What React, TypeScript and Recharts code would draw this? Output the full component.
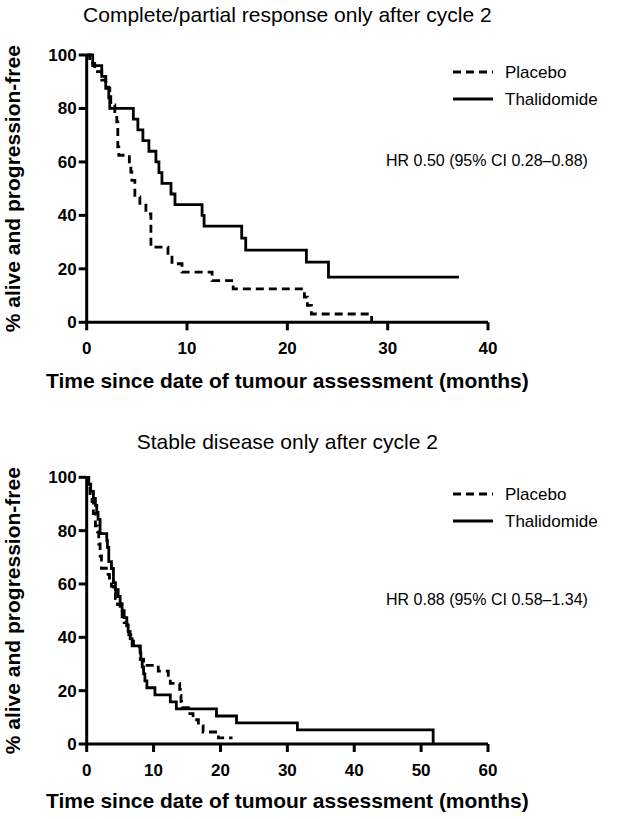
import React from 'react';
import { LineChart, Line, XAxis, YAxis, Legend } from 'recharts';

const FONT = '"Liberation Sans", Arial, Helvetica, sans-serif';

// ---- Top panel: Complete/partial response only after cycle 2 ----
const topTitle = 'Complete/partial response only after cycle 2';
const topHR = 'HR 0.50 (95% CI 0.28\u20130.88)';
const topXTicks = [0, 10, 20, 30, 40];
const topPlaceboTime = [0, 0.3, 0.8, 1.5, 1.9, 2.3, 2.4, 2.8, 3.0, 3.1, 3.2, 4.25, 4.4, 4.5, 4.8, 5.3, 5.9, 6.4, 8.1, 8.5, 9.5, 12.5, 14.6, 21.7, 22.0, 22.4, 28.4];
const topPlaceboSurv = [100, 96.9, 93.8, 90.6, 87.5, 84.4, 81.3, 78.1, 75, 65.6, 62.5, 59.4, 56.3, 53.1, 46.9, 43.8, 40.6, 28.1, 25, 21.9, 18.8, 15.6, 12.5, 9.4, 6.3, 3.1, 0];
const topThalTime = [0, 0.6, 1.5, 1.9, 2.2, 2.3, 4.65, 5.1, 5.6, 6.2, 6.9, 7.2, 7.5, 8.4, 8.8, 11.5, 11.7, 15.45, 15.85, 21.9, 24.1, 37.1];
const topThalSurv = [100, 96, 92, 88, 84, 80, 76, 72, 68, 64, 60, 56, 52, 48, 44, 40, 36, 31.5, 27, 22.5, 16.9, 16.9];

// ---- Bottom panel: Stable disease only after cycle 2 ----
const botTitle = 'Stable disease only after cycle 2';
const botHR = 'HR 0.88 (95% CI 0.58\u20131.34)';
const botXTicks = [0, 10, 20, 30, 40, 50, 60];
const botPlaceboTime = [0, 0.3, 0.5, 0.8, 1.0, 1.3, 1.6, 1.8, 2.0, 2.2, 3.2, 3.4, 3.7, 4.0, 4.3, 4.6, 5.0, 5.3, 5.6, 6.0, 6.3, 6.6, 7.0, 8.0, 8.5, 10.7, 12.2, 12.5, 13.9, 14.0, 14.1, 14.2, 15.2, 15.9, 16.7, 17.4, 19.7, 21.8];
const botPlaceboSurv = [100, 97.7, 93.2, 90.9, 86.4, 81.8, 79.5, 75, 70.5, 65.9, 63.6, 61.4, 59.1, 56.8, 54.5, 52.3, 50, 47.7, 45.5, 43.2, 40.9, 38.6, 36.4, 31.8, 29.5, 27.3, 25, 22.7, 20.5, 18.2, 15.9, 13.6, 11.4, 9.1, 6.8, 4.5, 2.3, 2.3];
const botThalTime = [0, 0.3, 0.6, 1.0, 1.3, 1.5, 1.7, 2.0, 3.0, 3.1, 3.3, 3.7, 4.0, 4.3, 4.7, 5.0, 5.3, 5.6, 6.0, 6.2, 6.5, 6.8, 8.0, 8.1, 8.3, 8.5, 8.7, 9.0, 10.2, 12.5, 13.4, 19.4, 22.4, 31.5, 51.8];
const botThalSurv = [100, 97.4, 94.7, 92.1, 89.5, 86.8, 84.2, 78.9, 76.3, 73.7, 68.4, 65.8, 60.5, 57.9, 55.3, 52.6, 50, 47.4, 44.7, 42.1, 39.5, 36.8, 34.2, 31.6, 28.9, 26.3, 23.7, 21.1, 18.4, 15.8, 13.2, 10.5, 7.9, 5.3, 0];

const yTicks = [0, 20, 40, 60, 80, 100];
const seriesNames = ['Placebo', 'Thalidomide'];
const xAxisTitle = 'Time since date of tumour assessment (months)';
const yAxisTitle = '% alive and progression-free';

const zip = (t: number[], v: number[]) => t.map((x, i) => ({ t: x, v: v[i] }));

const DASH = '8 5';

const renderLegend = () => (
  <div style={{ fontFamily: FONT, fontSize: 17, color: '#000' }}>
    {seriesNames.map((name, i) => (
      <div key={name} style={{ display: 'flex', alignItems: 'center', height: 27 }}>
        <svg width={40} height={6} style={{ display: 'block' }}>
          <line x1={0} y1={3} x2={40} y2={3} stroke="#000" strokeWidth={3} strokeDasharray={i === 0 ? DASH : undefined} />
        </svg>
        <span style={{ marginLeft: 12, lineHeight: '27px' }}>{name}</span>
      </div>
    ))}
  </div>
);

const tickStyle = { fill: '#000', fontSize: 17, fontWeight: 'bold' as const, fontFamily: FONT };

interface PanelProps {
  placebo: { t: number; v: number }[];
  thal: { t: number; v: number }[];
  xMax: number;
  xTicks: number[];
  height: number;
  marginTop: number;
  marginBottom: number;
  legendTop: number;
}

function Panel({ placebo, thal, xMax, xTicks, height, marginTop, marginBottom, legendTop }: PanelProps) {
  return (
    <LineChart width={625} height={height} margin={{ top: marginTop, right: 137, bottom: marginBottom, left: 26.7 }}>
      <XAxis
        type="number"
        dataKey="t"
        domain={[0, xMax]}
        ticks={xTicks}
        allowDuplicatedCategory={false}
        height={30}
        tick={tickStyle}
        tickSize={8}
        tickMargin={12}
        axisLine={{ stroke: '#000', strokeWidth: 3 }}
        tickLine={{ stroke: '#000', strokeWidth: 3 }}
      />
      <YAxis
        type="number"
        dataKey="v"
        domain={[0, 100]}
        ticks={yTicks}
        width={60}
        tick={tickStyle}
        tickSize={8}
        tickMargin={2}
        axisLine={{ stroke: '#000', strokeWidth: 3 }}
        tickLine={{ stroke: '#000', strokeWidth: 3 }}
      />
      <Legend
        layout="horizontal"
        verticalAlign="middle"
        align="center"
        content={renderLegend}
        wrapperStyle={{ position: 'absolute', left: 453, top: legendTop, width: 170 }}
      />
      <Line
        data={placebo}
        dataKey="v"
        name="Placebo"
        type="stepAfter"
        stroke="#000"
        strokeWidth={2.8}
        strokeDasharray={DASH}
        dot={false}
        activeDot={false}
        isAnimationActive={false}
      />
      <Line
        data={thal}
        dataKey="v"
        name="Thalidomide"
        type="stepAfter"
        stroke="#000"
        strokeWidth={2.8}
        dot={false}
        activeDot={false}
        isAnimationActive={false}
      />
    </LineChart>
  );
}

export default function App() {
  const plotCx = (86.7 + 488) / 2;
  return (
    <div style={{ position: 'absolute', left: 0, top: 0, width: 625, height: 819, background: '#fff' }}>
      <div style={{ position: 'absolute', left: 0, top: 0 }}>
        <Panel
          placebo={zip(topPlaceboTime, topPlaceboSurv)}
          thal={zip(topThalTime, topThalSurv)}
          xMax={40}
          xTicks={topXTicks}
          height={400}
          marginTop={55}
          marginBottom={47.7}
          legendTop={58.5}
        />
      </div>
      <div style={{ position: 'absolute', left: 0, top: 400 }}>
        <Panel
          placebo={zip(botPlaceboTime, botPlaceboSurv)}
          thal={zip(botThalTime, botThalSurv)}
          xMax={60}
          xTicks={botXTicks}
          height={419}
          marginTop={77.3}
          marginBottom={45}
          legendTop={80.5}
        />
      </div>
      <svg width={625} height={819} style={{ position: 'absolute', left: 0, top: 0, pointerEvents: 'none' }} fontFamily={FONT}>
        <text x={plotCx} y={22} textAnchor="middle" fontSize={21} fill="#000">{topTitle}</text>
        <text x={plotCx} y={449} textAnchor="middle" fontSize={21} fill="#000">{botTitle}</text>
        <text x={386} y={166} fontSize={16} fill="#000">{topHR}</text>
        <text x={386} y={605} fontSize={16} fill="#000">{botHR}</text>
        <text x={plotCx} y={388} textAnchor="middle" fontSize={21} fontWeight="bold" fill="#000">{xAxisTitle}</text>
        <text x={plotCx} y={808} textAnchor="middle" fontSize={21} fontWeight="bold" fill="#000">{xAxisTitle}</text>
        <text x={20} y={188.7} transform="rotate(-90 20 188.7)" textAnchor="middle" fontSize={21} fontWeight="bold" fill="#000">{yAxisTitle}</text>
        <text x={20} y={610.7} transform="rotate(-90 20 610.7)" textAnchor="middle" fontSize={21} fontWeight="bold" fill="#000">{yAxisTitle}</text>
      </svg>
    </div>
  );
}
